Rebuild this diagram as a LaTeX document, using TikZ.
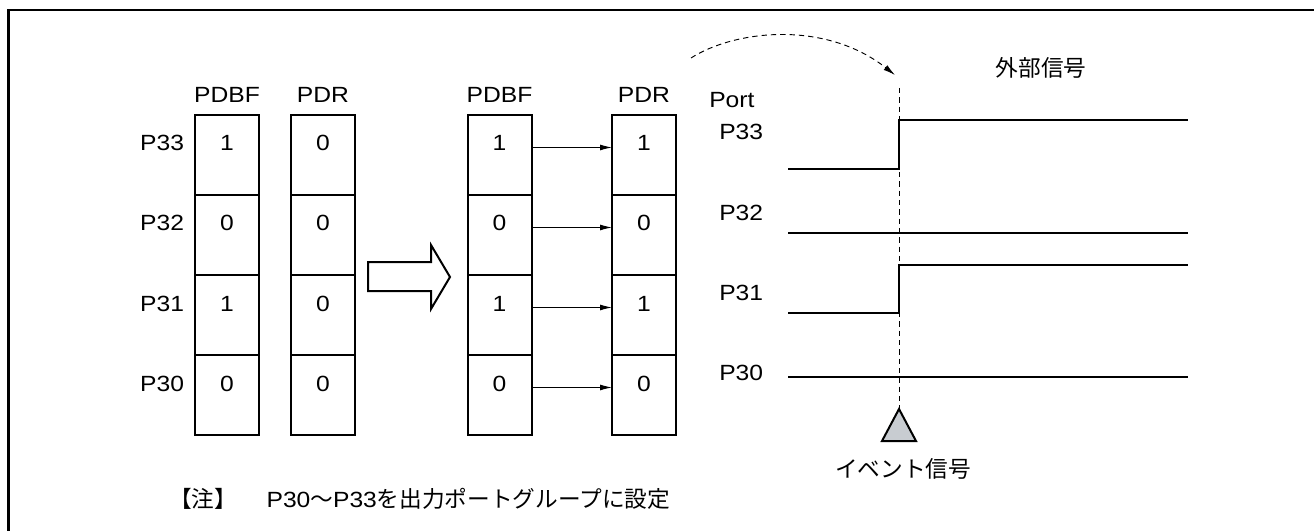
\documentclass[tikz,border=0pt]{standalone}
\usepackage{fontspec}
\setmainfont[FakeStretch=1.12]{Liberation Sans}
\newfontfamily\cjk{Noto Sans CJK JP}
\usetikzlibrary{arrows.meta,positioning}
\definecolor{evtgray}{RGB}{200,204,209}
\tikzset{
  cell/.style={draw, line width=1.5pt, minimum width=48pt, minimum height=60pt,
    inner sep=0pt, outer sep=0pt, text height=27pt, text depth=33pt, anchor=north},
  sig/.style={line width=1.5pt},
  copyarr/.style={-{Latex[length=9pt,width=4.5pt]}, line width=0.7pt},
  plain/.style={inner sep=0pt},
  jp/.style={font=\cjk\fontsize{17pt}{20pt}\selectfont},
}
\begin{document}
\begin{tikzpicture}[x=0.75pt, y=-0.75pt, font=\fontsize{16.5pt}{19pt}\selectfont]
    \useasboundingbox (0,0) rectangle (1314,531);

    % Frame (top and left edges)
    \draw[line width=1.6pt] (8.5,531) -- (8.5,10) -- (1314,10);

    % Register columns
    \foreach \r/\vb/\vr [count=\k from 0] in {33/1/0, 32/0/0, 31/1/0, 30/0/0} {
        \node[cell] (bufA-\k) at (227, {115+80*\k}) {\vb};
        \node[cell] (regA-\k) at (323, {115+80*\k}) {\vr};
        \node[cell] (bufB-\k) at (499.5, {115+80*\k}) {\vb};
        \node[cell] (regB-\k) at (644, {115+80*\k}) {\vb};
        \node[plain, left=8pt of bufA-\k.mid west, anchor=mid east] (row-\k) {P\r};
        \draw[copyarr] (bufB-\k.mid east) -- (regB-\k.mid west);
    }

    % Column headings
    \node[plain, above=9pt of bufA-0.north, anchor=base] (hdBufA) {PDBF};
    \node[plain, above=9pt of regA-0.north, anchor=base] (hdRegA) {PDR};
    \node[plain, above=9pt of bufB-0.north, anchor=base] (hdBufB) {PDBF};
    \node[plain, above=9pt of regB-0.north, anchor=base] (hdRegB) {PDR};

    % Transfer arrow
    \draw[line width=1.5pt, line join=miter]
        (368,262) -- (431,262) -- (431,245) -- (450,277) -- (431,309) -- (431,291) -- (368,291) -- cycle;

    % Port labels
    \node[plain, anchor=base west] (port) at (709,108) {Port};
    \node[plain, anchor=base west] (sig-33) at (719,140) {P33};
    \node[plain, anchor=base west] (sig-32) at (719,220) {P32};
    \node[plain, anchor=base west] (sig-31) at (719,300) {P31};
    \node[plain, anchor=base west] (sig-30) at (719,380) {P30};

    % Event instant
    \coordinate (evt) at (899,409);
    \coordinate (evtTop) at (899,88);

    % Waveforms
    \draw[sig] (788,169) -- (evt |- 0,169) -- (evt |- 0,120) -- (1188,120);
    \draw[sig] (788,233) -- (1188,233);
    \draw[sig] (788,313) -- (evt |- 0,313) -- (evt |- 0,265) -- (1188,265);
    \draw[sig] (788,377) -- (1188,377);

    % Event marker
    \draw[dashed, line width=0.7pt, dash pattern=on 4pt off 3pt] (evtTop) -- (evt);
    \draw[line width=1.5pt, fill=evtgray] (evt) -- ++(17,32) -- ++(-34,0) -- cycle;
    \node[plain, jp, anchor=base] (evtLbl) at (903,477) {イベント信号};

    % External signal
    \node[plain, jp, anchor=base] (extLbl) at (1041,77) {外部信号};
    \coordinate (arcStart) at (691,58);
    \draw[dashed, line width=0.7pt, dash pattern=on 4pt off 3pt, -{Latex[length=9pt,width=4.5pt]}]
        (arcStart) .. controls (735,30) and (825,20) .. (895,75);

    % Note
    \node[plain, anchor=base west] (note) at (169,507)
        {\cjk\fontsize{17pt}{20pt}\selectfont【注】\hspace{22pt}{\rmfamily\fontsize{16.5pt}{19pt}\selectfont P30}〜{\rmfamily\fontsize{16.5pt}{19pt}\selectfont P33}を出力ポートグループに設定};
\end{tikzpicture}
\end{document}
